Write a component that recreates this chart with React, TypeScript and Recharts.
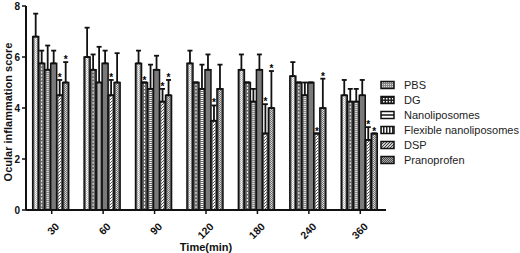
import React from "react";
import { Bar, BarChart, ErrorBar, LabelList, XAxis, YAxis } from "recharts";

const times = ["30", "60", "90", "120", "180", "240", "360"];

const pbs = [6.8, 6.0, 5.75, 5.75, 5.5, 5.25, 4.5];
const pbsErr = [0.9, 1.15, 0.5, 0.5, 0.6, 0.55, 0.6];
const dg = [5.75, 5.5, 5.0, 5.0, 5.0, 5.0, 4.25];
const dgErr = [0.5, 0.6, 0, 0, 0, 0, 0.5];
const nano = [5.5, 5.0, 4.75, 4.75, 4.25, 4.5, 4.25];
const nanoErr = [0.95, 1.4, 0.95, 0.95, 0.5, 0.5, 0.5];
const flex = [5.75, 5.75, 5.5, 5.5, 5.5, 5.0, 4.5];
const flexErr = [0.5, 0.5, 0.55, 0.6, 0.6, 0, 0.6];
const dsp = [4.5, 4.5, 4.25, 3.5, 3.0, 3.0, 2.75];
const dspErr = [0.6, 0.6, 0.5, 0.6, 1.15, 0, 0.5];
const pran = [5.0, 5.0, 4.5, 4.75, 4.0, 4.0, 3.0];
const pranErr = [0.8, 1.15, 0.6, 0.95, 1.45, 1.15, 0];

// significance marks (*)
const dgStar = [false, false, true, false, false, false, false];
const dspStar = [true, true, true, true, true, true, true];
const pranStar = [true, false, true, false, true, true, true];

const series = [
  { key: "pbs", name: "PBS", values: pbs, err: pbsErr, star: null },
  { key: "dg", name: "DG", values: dg, err: dgErr, star: dgStar },
  { key: "nano", name: "Nanoliposomes", values: nano, err: nanoErr, star: null },
  { key: "flex", name: "Flexible nanoliposomes", values: flex, err: flexErr, star: null },
  { key: "dsp", name: "DSP", values: dsp, err: dspErr, star: dspStar },
  { key: "pran", name: "Pranoprofen", values: pran, err: pranErr, star: pranStar },
];

const data = times.map((t, i) => {
  const row: any = { time: t };
  series.forEach((s) => {
    row[s.key] = s.values[i];
    row[s.key + "E"] = [0, s.err[i]];
  });
  return row;
});

const FONT = "'Liberation Sans', Arial, sans-serif";
const GREY = "#666";

const BarShape = (props: any) => {
  const { x, y, width, height, kind } = props;
  if (!height || height <= 0) return null;
  const cx = x + width / 2;
  let inner: any = null;
  if (kind === "pbs") {
    inner = <rect x={cx - 1.2} y={y + 1} width={2.4} height={height - 2} fill="url(#pChecker)" />;
  } else if (kind === "dg") {
    inner = <line x1={cx} x2={cx} y1={y + 1} y2={y + height} stroke="#fff" strokeWidth={1} strokeDasharray="2 1.5" />;
  } else if (kind === "nano") {
    inner = <line x1={cx} x2={cx} y1={y + 1} y2={y + height} stroke="#fff" strokeWidth={2.4} strokeDasharray="1 1" />;
  } else if (kind === "dsp") {
    inner = <rect x={cx - 1.2} y={y + 1} width={2.4} height={height - 2} fill="url(#pDiag)" />;
  } else if (kind === "pran") {
    inner = <rect x={cx - 1.2} y={y + 1} width={2.4} height={height - 2} fill="url(#pDiag2)" />;
  }
  return (
    <g>
      <rect x={x} y={y} width={width} height={height} fill={kind === "flex" ? "#7a7a7a" : GREY} stroke="#111" strokeWidth={1.5} />
      {inner}
    </g>
  );
};

const legendFill: Record<string, string> = {
  pbs: "url(#pLegPbs)",
  dg: "url(#pLegDg)",
  nano: "#fff",
  flex: "url(#pLegFlex)",
  dsp: "url(#pLegDsp)",
  pran: "url(#pLegPran)",
};

const ChartLegend = () => (
  <div style={{ position: "absolute", left: 380, top: 77, fontFamily: FONT, fontSize: 11, color: "#222" }}>
    {series.map((s) => (
      <div key={s.key} style={{ display: "flex", alignItems: "center", height: 15 }}>
        <svg width={16} height={10} style={{ marginRight: 8 }}>
          <rect x={1} y={1.5} width={13} height={7} fill={legendFill[s.key]} stroke="#111" strokeWidth={1.5} />
          {s.key === "nano" && <line x1={1} x2={14} y1={5} y2={5} stroke="#111" strokeWidth={1.5} />}
        </svg>
        <span>{s.name}</span>
      </div>
    ))}
  </div>
);

const XTick = (props: any) => {
  const { x, y, payload } = props;
  return (
    <g transform={`translate(${x + 3},${y + 6}) rotate(-45)`}>
      <text textAnchor="end" dy="0.71em" fontFamily={FONT} fontWeight="bold" fontSize={10.5} fill="#111">
        {payload.value}
      </text>
    </g>
  );
};

const YLabel = (props: any) => {
  const { viewBox } = props;
  const cy = viewBox.y + viewBox.height / 2 + 4;
  return (
    <text x={8} y={cy} transform={`rotate(-90, 8, ${cy})`} textAnchor="middle" dominantBaseline="central"
      fontFamily={FONT} fontWeight="bold" fontSize={11} fill="#111">
      Ocular inflammation score
    </text>
  );
};

const makeStar = (s: any) => (props: any) => {
  const { x, y, width, height, value, index } = props;
  if (!s.star || !s.star[index] || !value) return null;
  const perUnit = height / value;
  const top = y - s.err[index] * perUnit;
  return (
    <text x={x + width / 2} y={top + 1} textAnchor="middle" fontFamily={FONT} fontWeight="bold" fontSize={10} fill="#000">
      *
    </text>
  );
};

export default function App() {
  return (
    <div style={{ position: "relative", width: 520, height: 253, background: "#fff" }}>
      <style>{`body{margin:0}`}</style>
      <svg width={0} height={0} style={{ position: "absolute" }}>
        <defs>
          <pattern id="pChecker" width={2} height={2} patternUnits="userSpaceOnUse">
            <rect width={2} height={2} fill="#bbb" />
            <rect width={1} height={1} fill="#fff" />
            <rect x={1} y={1} width={1} height={1} fill="#fff" />
          </pattern>
          <pattern id="pDiag" width={3} height={3} patternUnits="userSpaceOnUse">
            <rect width={3} height={3} fill="#fff" />
            <path d="M0,3 L3,0" stroke="#555" strokeWidth={1} />
          </pattern>
          <pattern id="pDiag2" width={2} height={2} patternUnits="userSpaceOnUse">
            <rect width={2} height={2} fill="#ddd" />
            <path d="M0,0 L2,2" stroke="#555" strokeWidth={0.8} />
          </pattern>
          <pattern id="pLegPbs" width={2} height={2} patternUnits="userSpaceOnUse">
            <rect width={2} height={2} fill="#888" />
            <rect width={1} height={1} fill="#ddd" />
          </pattern>
          <pattern id="pLegDg" width={3} height={3} patternUnits="userSpaceOnUse">
            <rect width={3} height={3} fill="#222" />
            <rect width={1.5} height={1.5} fill="#fff" />
          </pattern>
          <pattern id="pLegFlex" width={3} height={3} patternUnits="userSpaceOnUse">
            <rect width={3} height={3} fill="#fff" />
            <rect width={1.5} height={3} fill="#222" />
          </pattern>
          <pattern id="pLegDsp" width={3} height={3} patternUnits="userSpaceOnUse">
            <rect width={3} height={3} fill="#ccc" />
            <path d="M0,3 L3,0" stroke="#444" strokeWidth={1} />
          </pattern>
          <pattern id="pLegPran" width={2} height={2} patternUnits="userSpaceOnUse">
            <rect width={2} height={2} fill="#aaa" />
            <path d="M0,0 L2,2" stroke="#333" strokeWidth={0.8} />
          </pattern>
        </defs>
      </svg>
      <BarChart
        width={520}
        height={253}
        data={data}
        margin={{ top: 6, right: 134, bottom: 0, left: 0 }}
        barCategoryGap="13%"
        barGap={0}
      >
        <XAxis
          dataKey="time"
          height={43}
          axisLine={{ stroke: "#111", strokeWidth: 2 }}
          tickLine={{ stroke: "#111", strokeWidth: 1.5 }}
          tickSize={4}
          tick={<XTick />}
          interval={0}
          label={{
            value: "Time(min)",
            position: "insideBottom",
            offset: 2,
            style: { fontFamily: FONT, fontWeight: "bold", fontSize: 11, fill: "#111" },
          }}
        />
        <YAxis
          width={26}
          domain={[0, 8]}
          ticks={[0, 2, 4, 6, 8]}
          axisLine={{ stroke: "#111", strokeWidth: 2 }}
          tickLine={{ stroke: "#111", strokeWidth: 1.5 }}
          tickSize={4}
          tick={{ fontFamily: FONT, fontWeight: "bold", fontSize: 10, fill: "#111" }}
          label={<YLabel />}
        />
        {series.map((s) => (
          <Bar
            key={s.key}
            dataKey={s.key}
            name={s.name}
            isAnimationActive={false}
            shape={(p: any) => <BarShape {...p} kind={s.key} />}
          >
            <ErrorBar dataKey={s.key + "E"} width={2.5} stroke="#111" strokeWidth={1.8} direction="y" />
            <LabelList dataKey={s.key} content={makeStar(s)} />
          </Bar>
        ))}
      </BarChart>
      <ChartLegend />
    </div>
  );
}
